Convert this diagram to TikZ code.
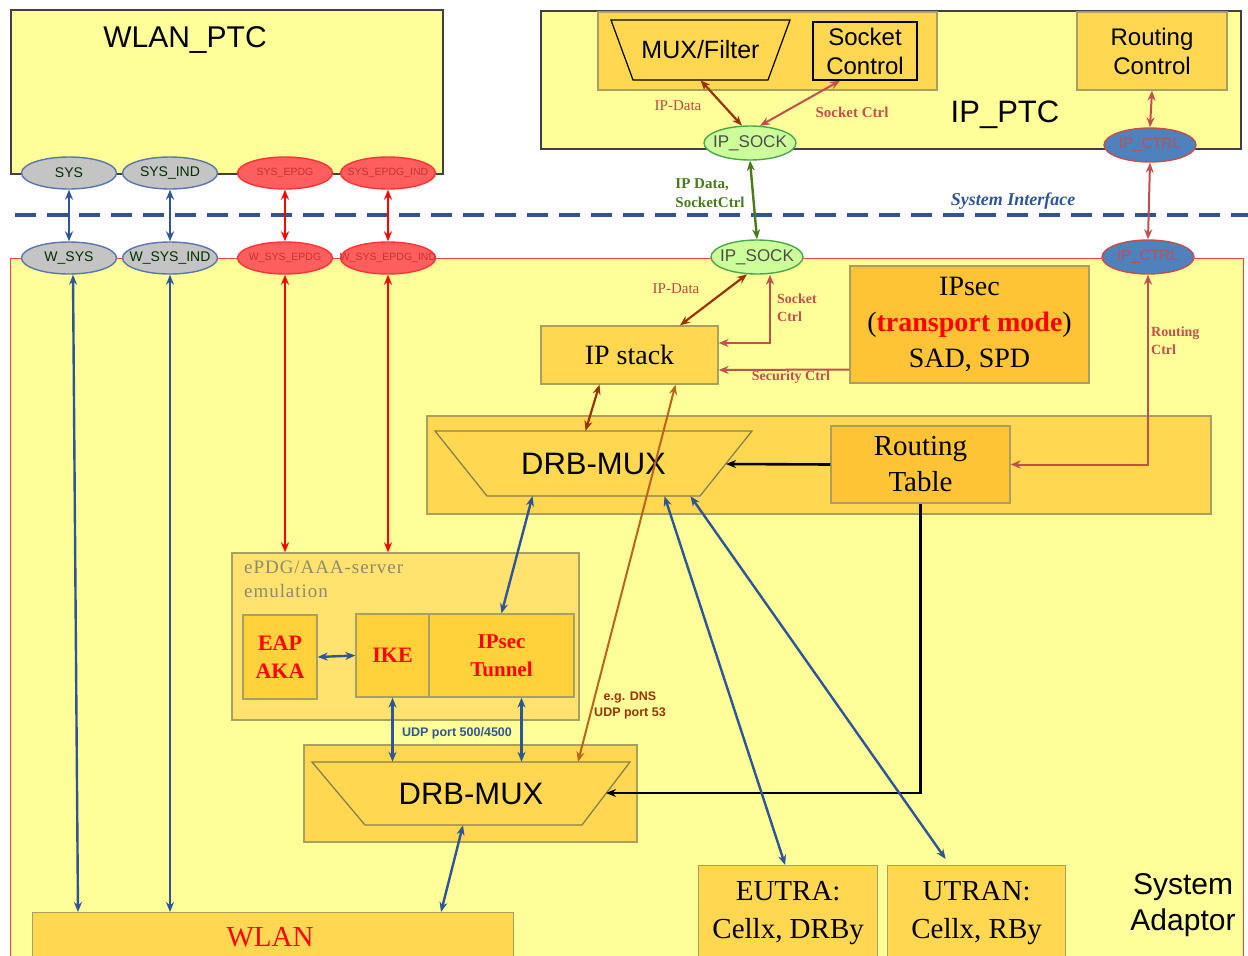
\documentclass[tikz,border=0pt]{standalone}
\usepackage{fontspec}
\setmainfont{Liberation Serif}
\setsansfont{Liberation Sans}
\usetikzlibrary{arrows.meta,calc,shapes.geometric}
\definecolor{ly}{HTML}{FFFF99}
\definecolor{gold}{HTML}{FFD750}
\definecolor{goldL}{HTML}{FFE36E}
\definecolor{goldD}{HTML}{FFD23C}
\definecolor{orng}{HTML}{FFC435}
\definecolor{bdr}{HTML}{A8A060}
\definecolor{sblue}{HTML}{2F5597}
\definecolor{brn}{HTML}{993300}
\definecolor{brnL}{HTML}{B8651F}
\definecolor{rosy}{HTML}{C0504D}
\definecolor{dgreen}{HTML}{4A7A1E}
\definecolor{ellgray}{HTML}{C4C4C4}
\definecolor{ellred}{HTML}{FF5E5E}
\definecolor{ellgreen}{HTML}{CCFF99}
\definecolor{ellblue}{HTML}{4F81BD}
\definecolor{epdgtxt}{HTML}{8E8A6A}
\newcommand{\fsz}[2]{\fontsize{#1}{#2}\selectfont}
\begin{document}
\begin{tikzpicture}[x=1pt,y=-1pt,
  box/.style={draw=bdr, line width=1.3pt, fill=gold, inner sep=0pt},
  ptcbox/.style={draw=black!75, fill=ly, line width=1.8pt, inner sep=0pt, anchor=north west},
  ell/.style={ellipse, line width=1.4pt, minimum width=95pt, minimum height=32pt, inner sep=0pt},
  grayell/.style={ell, fill=ellgray, draw=sblue!80, text=black!70!green!60!black, font=\sffamily\fsz{14}{14}},
  redell/.style={ell, fill=ellred, draw=red!80, text=red!70!black!80, font=\sffamily\fsz{10.5}{10.5}},
  greenell/.style={ell, fill=ellgreen, draw=green!50!black!70, text=black!70, minimum width=92pt, minimum height=34pt, font=\sffamily\fsz{17}{17}},
  blueell/.style={ell, fill=ellblue, draw=rosy, text=rosy, minimum width=92pt, minimum height=34pt, font=\sffamily\fsz{15}{15}},
  arr/.style={{Stealth[length=10pt,width=8pt]}-{Stealth[length=10pt,width=8pt]}, line width=2.4pt},
  lbl/.style={font=\bfseries\fsz{14}{18}, text=rosy, inner sep=0pt, align=left},
  sanslbl/.style={font=\sffamily#1, inner sep=0pt, align=center}
]
\useasboundingbox (0,0) rectangle (1248,956);
\fill[white] (0,0) rectangle (1248,956);

% ---------- System Adaptor ----------
\node[draw=red!75, fill=ly, line width=1.2pt, minimum width=1233pt, minimum height=740pt, anchor=north west, inner sep=0pt] (sa) at (10,258) {};
\node[sanslbl=\fsz{30}{36}] (salbl) at (1183,905) {System\\Adaptor};

% ---------- WLAN_PTC ----------
\node[ptcbox, minimum width=432pt, minimum height=164pt] (wptc) at (10,9) {};
\node[sanslbl=\fsz{30}{30}] (wptcl) at (185,40) {WLAN\_PTC};

% ---------- IP_PTC ----------
\node[ptcbox, minimum width=700pt, minimum height=138pt] (iptc) at (540,10) {};
\node[box, minimum width=339pt, minimum height=78pt] (grp) at (767.5,51) {};
\draw[black, line width=1.2pt, fill=gold] (611,20) -- (790,20) -- (768,80) -- (633,80) -- cycle;
\node[minimum width=179pt, minimum height=60pt, inner sep=0pt, font=\sffamily\fsz{25}{25}] (mux) at (700.5,50) {MUX/Filter};
\node[box, draw=black, minimum width=104pt, minimum height=58pt, font=\sffamily\fsz{24}{29}, align=center] (sockctl) at (865,51) {Socket\\Control};
\node[box, minimum width=150pt, minimum height=78pt, font=\sffamily\fsz{24}{29}, align=center] (rctl) at (1152,51) {Routing\\Control};
\node[sanslbl=\fsz{31}{31}] (iptcl) at (1005,115) {IP\_PTC};

% ---------- interface ellipses, top ----------
\node[grayell] (sys) at (69,173) {\makebox[0pt]{SYS}};
\node[grayell] (sysind) at (170,173) {\makebox[0pt]{SYS\_IND}};
\node[redell] (sysepdg) at (285,173) {\makebox[0pt]{SYS\_EPDG}};
\node[redell] (sysepdgind) at (388,173) {\makebox[0pt]{SYS\_EPDG\_IND}};
\node[greenell] (ipsockT) at (750,143) {\makebox[0pt]{IP\_SOCK}};
\node[blueell] (ipctrlT) at (1150,145) {\makebox[0pt]{IP\_CTRL}};

% ---------- system interface ----------
\draw[sblue, line width=4pt, dash pattern=on 21pt off 11pt] (15,215) -- (1248,215);
\node[font=\bfseries\itshape\fsz{18}{18}, text=sblue, inner sep=0pt] (sif) at (1013,201) {System Interface};

% ---------- interface ellipses, bottom ----------
\node[grayell] (wsys) at (69,258) {\makebox[0pt]{W\_SYS}};
\node[grayell] (wsysind) at (170,258) {\makebox[0pt]{W\_SYS\_IND}};
\node[redell] (wsysepdg) at (285,258) {\makebox[0pt]{W\_SYS\_EPDG}};
\node[redell] (wsysepdgind) at (388,258) {\makebox[0pt]{W\_SYS\_EPDG\_IND}};
\node[greenell] (ipsockB) at (757,257) {\makebox[0pt]{IP\_SOCK}};
\node[blueell] (ipctrlB) at (1148,257) {\makebox[0pt]{IP\_CTRL}};

% ---------- IP_PTC internal connectors ----------
\draw[arr, brn, line width=2.2pt] (mux.south) -- (ipsockT.115);
\draw[arr, rosy, line width=2pt] ([xshift=-25pt]sockctl.south) -- (ipsockT.60);
\draw[arr, rosy, line width=2pt] (rctl.south) -- (ipctrlT.north);
\node[font=\fsz{15}{15}, text=rosy!80!brn, inner sep=0pt] (l1) at (678,106) {IP-Data};
\node[lbl, font=\bfseries\fsz{15}{15}] (l2) at (852,112) {Socket Ctrl};

% ---------- cross-interface connectors ----------
\draw[arr, sblue] (sys.south) -- (wsys.north);
\draw[arr, sblue] (sysind.south) -- (wsysind.north);
\draw[arr, red] (sysepdg.south) -- (wsysepdg.north);
\draw[arr, red] (sysepdgind.south) -- (wsysepdgind.north);
\draw[arr, dgreen] (ipsockT.south) -- (ipsockB.north);
\draw[arr, rosy, line width=2pt] (ipctrlT.south) -- (ipctrlB.north);
\node[lbl, text=dgreen, font=\bfseries\fsz{15}{19}] (l3) at (710,193) {IP Data,\\SocketCtrl};

% ---------- IP stack / IPsec ----------
\node[box, fill=gold, minimum width=177pt, minimum height=58pt, font=\fsz{28}{28}] (ipstack) at (629.5,355) {IP stack};
\node[box, fill=orng, minimum width=239pt, minimum height=117pt, font=\fsz{28}{36}, align=center] (ipsec) at (969.5,324.5) {IPsec\\(\textcolor{red}{\textbf{transport mode}})\\SAD, SPD};

\draw[arr, brn, line width=2.2pt] ([xshift=50.5pt]ipstack.north) -- (ipsockB.240);
\node[font=\fsz{15}{15}, text=rosy!80!brn, inner sep=0pt] (l4) at (676,289) {IP-Data};
\draw[arr, rosy, line width=2pt] ([xshift=13pt]ipsockB.south) |- ([yshift=12pt]ipstack.east);
\node[lbl, anchor=north west] (l5) at (777,294) {Socket\\Ctrl};
\draw[-{Stealth[length=10pt,width=8pt]}, rosy, line width=2pt] ([yshift=-45pt]ipsec.west) -- ([yshift=-15pt]ipstack.east);
\node[lbl] (l6) at (791,377) {Security Ctrl};

% ---------- DRB-MUX upper ----------
\node[box, minimum width=784pt, minimum height=98pt] (band) at (819,465) {};
\draw[bdr!80!black, line width=1.3pt, fill=gold] (435,431) -- (752,431) -- (700,496) -- (487,496) -- cycle;
\node[minimum width=317pt, minimum height=65pt, inner sep=0pt, font=\sffamily\fsz{31}{31}] (drbA) at (593.5,463.5) {DRB-MUX};
\node[box, fill=orng, minimum width=179pt, minimum height=77pt, font=\fsz{29}{36}, align=center] (rtable) at (920.5,464.5) {Routing\\Table};
\coordinate (drbAin) at (726,464);
\draw[-{Stealth[length=10pt,width=8pt]}, black, line width=2.6pt] (rtable.west) -- (drbAin);

\draw[arr, rosy, line width=2pt] (ipctrlB.south) |- (rtable.east);
\node[lbl, anchor=north west] (l7) at (1151,327) {Routing\\Ctrl};

\draw[arr, brn, line width=2.2pt] ([xshift=-30pt]ipstack.south) -- ([xshift=-8pt]drbA.north);

% ---------- ePDG ----------
\node[box, fill=goldL, minimum width=347pt, minimum height=167pt] (epdg) at (405.5,636.5) {};
\node[anchor=north west, inner sep=0pt, font=\fsz{19}{24}\addfontfeature{LetterSpace=5}, text=epdgtxt, align=left] (epdgl) at (244,561) {ePDG/AAA-server\\emulation};
\node[box, fill=goldD, minimum width=74pt, minimum height=84pt, font=\bfseries\fsz{22}{28}, text=red, align=center] (eap) at (280,657) {EAP\\AKA};
\node[box, fill=goldD, minimum width=73pt, minimum height=83pt, font=\bfseries\fsz{22}{22}, text=red] (ike) at (392.5,655.5) {IKE};
\node[box, fill=goldD, minimum width=145pt, minimum height=83pt, font=\bfseries\fsz{21}{28}, text=red, align=center] (tunnel) at (501.5,655.5) {IPsec\\Tunnel};
\draw[arr, sblue] (eap.east) -- (ike.west);

\draw[arr, red] (wsysepdg.south) -- (wsysepdg.south |- epdg.north);
\draw[arr, red] (wsysepdgind.south) -- (wsysepdgind.south |- epdg.north);
\draw[arr, sblue] ([xshift=-61pt]drbA.south) -- (tunnel.north);

% ---------- DRB-MUX lower ----------
\node[box, minimum width=333pt, minimum height=97pt] (bandB) at (470.5,793.5) {};
\draw[bdr!80!black, line width=1.3pt, fill=gold] (312,762) -- (630,762) -- (582,825) -- (365,825) -- cycle;
\node[minimum width=318pt, minimum height=63pt, inner sep=0pt, font=\sffamily\fsz{31}{31}] (drbB) at (471,793.5) {DRB-MUX};
\coordinate (drbBin) at (606,793);
\draw[-{Stealth[length=10pt,width=8pt]}, black, line width=2.6pt] (rtable.south) |- (drbBin);

\draw[arr, sblue] (ike.south) -- (ike.south |- drbB.north);
\draw[arr, sblue] ($(tunnel.south)+(20,0)$) -- ($(drbB.north)+(50.5,0)$);
\node[font=\sffamily\bfseries\fsz{12.5}{12.5}, text=sblue, inner sep=0pt] (l8) at (457,733) {UDP port 500/4500};

\draw[arr, brnL, line width=2pt] ([xshift=46pt]ipstack.south) -- ($(drbB.north)+(107,0)$);
\node[font=\sffamily\bfseries\fsz{12.5}{16}, text=brn, inner sep=0pt, align=center] (l9) at (630,705) {e.g. DNS\\UDP port 53};

% ---------- WLAN / EUTRA / UTRAN ----------
\node[box, minimum width=481pt, minimum height=70pt, anchor=north west] (wlan) at (32,912) {};
\node[font=\fsz{29}{29}, text=red, inner sep=0pt] (wlanl) at (270,937) {WLAN};
\node[box, minimum width=179pt, minimum height=95pt, anchor=north west, font=\fsz{29}{38}, align=center] (eutra) at (698,865) {EUTRA:\\Cellx, DRBy};
\node[box, minimum width=178pt, minimum height=95pt, anchor=north west, font=\fsz{29}{38}, align=center] (utran) at (887,865) {UTRAN:\\Cellx, RBy};

\draw[arr, sblue] ([xshift=-8pt]drbB.south) -- ($(wlan.north west)+(409,0)$);
\draw[arr, sblue] ([xshift=4pt]wsys.south) -- ($(wlan.north west)+(46,0)$);
\draw[arr, sblue] (wsysind.south) -- ($(wlan.north west)+(138,0)$);
\draw[arr, sblue] ([xshift=71pt]drbA.south) -- ($(eutra.north)+(-3,0)$);
\draw[arr, sblue] ([xshift=97pt]drbA.south) -- ($(utran.north)+(-31,-6)$);
\end{tikzpicture}
\end{document}
